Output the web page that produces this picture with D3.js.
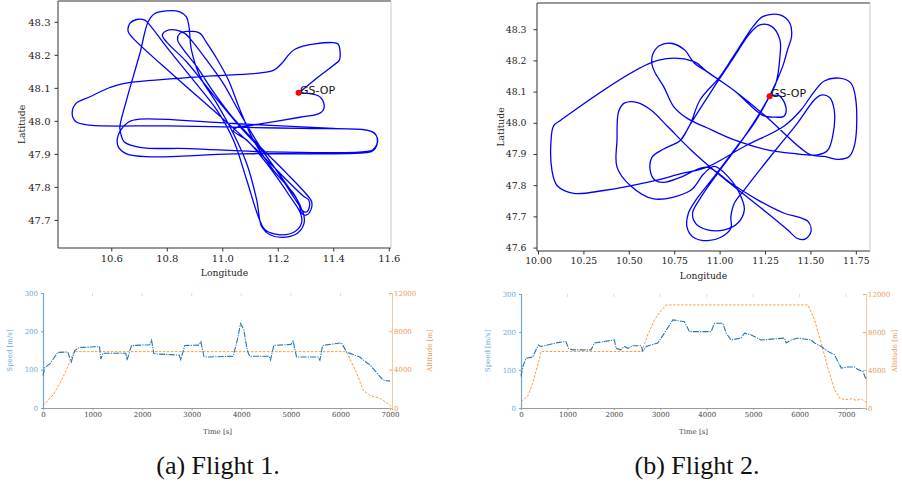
<!DOCTYPE html>
<html>
<head>
<meta charset="utf-8">
<script src="https://cdn.jsdelivr.net/npm/d3@7"></script>
<style>
  body { margin: 0; background: #fff; }
  svg { display: block; }
</style>
</head>
<body>
<svg width="902" height="484"></svg>
<script>
// ground track of flight 1, [longitude, latitude]
const flight1Path = [
  [11.277,48.085],[11.340,48.129],[11.400,48.168],[11.422,48.184],[11.424,48.214],[11.418,48.232],
  [11.400,48.237],[11.262,48.217],[11.214,48.174],[11.184,48.153],[10.920,48.134],[10.643,48.113],
  [10.595,48.101],[10.523,48.073],[10.473,48.053],[10.459,48.023],[10.473,47.997],[10.523,47.987],
  [10.799,47.985],[11.040,47.981],[11.280,47.977],[11.520,47.972],[11.550,47.962],[11.559,47.937],
  [11.544,47.910],[11.520,47.904],[11.040,47.900],[10.739,47.891],[10.655,47.900],[10.625,47.922],
  [10.622,47.947],[10.634,47.972],[10.661,47.996],[10.703,48.005],[11.040,47.992],[11.400,47.977],
  [11.532,47.970],[11.554,47.957],[11.559,47.934],[11.542,47.912],[11.514,47.907],[11.160,47.906],
  [10.883,47.916],[10.703,47.920],[10.646,47.937],[10.634,47.962],[10.631,47.982],[10.655,48.063],
  [10.703,48.204],[10.733,48.300],[10.757,48.325],[10.799,48.333],[10.847,48.330],[10.871,48.315],
  [10.880,48.285],[10.889,48.214],[10.920,48.134],[10.980,48.053],[11.040,47.962],[11.088,47.871],
  [11.124,47.761],[11.142,47.680],[11.172,47.655],[11.214,47.647],[11.268,47.658],[11.294,47.688],
  [11.292,47.720],[11.256,47.771],[11.160,47.892],[11.064,47.982],[10.968,48.078],[10.871,48.179],
  [10.799,48.239],[10.784,48.260],[10.799,48.273],[10.835,48.275],[10.865,48.265],[10.883,48.250],
  [10.944,48.184],[11.004,48.113],[11.064,48.023],[11.136,47.922],[11.220,47.821],[11.274,47.755],
  [11.286,47.720],[11.304,47.715],[11.320,47.732],[11.322,47.755],[11.310,47.771],[11.232,47.841],
  [11.136,47.922],[11.040,48.008],[10.968,48.088],[10.908,48.164],[10.853,48.224],[10.839,48.245],
  [10.847,48.265],[10.883,48.272],[10.920,48.265],[10.941,48.240],[10.980,48.189],[11.022,48.124],
  [11.064,48.033],[11.112,47.942],[11.184,47.851],[11.256,47.781],[11.280,47.745],[11.289,47.728],
  [11.304,47.724],[11.314,47.740],[11.311,47.761],[11.294,47.771],[11.220,47.831],[11.112,47.922],
  [10.980,48.023],[10.823,48.139],[10.679,48.250],[10.661,48.270],[10.667,48.295],[10.691,48.307],
  [10.721,48.305],[10.739,48.290],[10.799,48.224],[10.895,48.124],[10.980,48.033],[11.040,47.942],
  [11.088,47.821],[11.130,47.710],[11.154,47.670],[11.208,47.655],[11.262,47.665],[11.286,47.692],
  [11.282,47.720],[11.244,47.771],[11.160,47.871],[11.088,47.942],[11.040,47.970],[11.052,47.980],
  [11.100,47.986],[11.280,48.011],[11.346,48.021],[11.364,48.033],[11.366,48.053],[11.346,48.076],
  [11.277,48.085]
];

// ground track of flight 2, [longitude, latitude]
const flight2Path = [
  [11.273,48.084],[11.328,48.087],[11.365,48.050],[11.356,48.022],[11.301,48.018],[11.237,48.024],
  [11.081,48.103],[10.930,48.164],[10.857,48.197],[10.659,48.200],[10.127,48.009],[10.086,47.990],
  [10.072,47.945],[10.077,47.847],[10.105,47.799],[10.196,47.774],[10.361,47.783],[10.600,47.809],
  [10.783,47.836],[10.930,47.858],[11.136,47.924],[11.356,47.990],[11.448,48.041],[11.521,48.100],
  [11.576,48.134],[11.659,48.143],[11.723,48.127],[11.750,48.073],[11.745,47.934],[11.714,47.892],
  [11.659,47.883],[11.576,47.892],[11.503,47.897],[11.448,47.918],[11.246,48.025],[11.081,48.103],
  [10.930,48.164],[10.861,48.191],[10.806,48.234],[10.732,48.255],[10.668,48.247],[10.631,48.218],
  [10.628,48.186],[10.644,48.161],[10.692,48.116],[10.747,48.052],[10.820,48.015],[10.930,47.984],
  [11.081,47.945],[11.264,47.913],[11.429,47.900],[11.484,47.897],[11.539,47.897],[11.594,47.911],
  [11.622,47.956],[11.631,48.041],[11.604,48.082],[11.558,48.089],[11.521,48.073],[11.429,47.999],
  [11.338,47.934],[11.228,47.854],[11.136,47.785],[11.081,47.742],[11.062,47.699],[11.062,47.662],
  [11.007,47.633],[10.934,47.622],[10.851,47.635],[10.820,47.667],[10.828,47.710],[10.870,47.753],
  [10.971,47.828],[11.081,47.913],[11.191,47.999],[11.264,48.073],[11.310,48.127],[11.332,48.212],
  [11.332,48.266],[11.286,48.309],[11.222,48.314],[11.167,48.287],[11.081,48.212],[10.971,48.116],
  [10.839,47.996],[10.783,47.943],[10.692,47.916],[10.628,47.890],[10.618,47.847],[10.646,47.815],
  [10.692,47.809],[10.783,47.825],[10.930,47.858],[11.062,47.806],[11.209,47.753],[11.356,47.710],
  [11.439,47.697],[11.488,47.683],[11.503,47.651],[11.470,47.627],[11.429,47.629],[11.374,47.657],
  [11.264,47.710],[11.136,47.769],[10.989,47.838],[10.842,47.913],[10.714,47.988],[10.622,48.041],
  [10.549,48.065],[10.475,48.063],[10.444,48.036],[10.435,47.945],[10.435,47.858],[10.508,47.799],
  [10.637,47.756],[10.839,47.783],[10.912,47.836],[10.971,47.860],[11.062,47.817],[11.117,47.764],
  [11.136,47.721],[11.099,47.678],[11.026,47.657],[10.934,47.657],[10.870,47.676],[10.851,47.710],
  [10.888,47.753],[10.989,47.838],[11.099,47.924],[11.209,48.020],[11.283,48.095],[11.347,48.180],
  [11.374,48.234],[11.396,48.276],[11.387,48.319],[11.332,48.346],[11.240,48.341],[11.185,48.309],
  [11.099,48.234],[11.002,48.148],[10.892,48.073],[10.839,47.996],[10.787,47.945]
];

const groundStation = [11.275, 48.085];
const stationName = "GS-OP";

// [time s, speed m/s] and [time s, altitude m]
const flight1Speed = [
  [0,85],[35,105],[135,115],[300,145],[500,146],[570,120],[640,150],[740,158],[1140,160],[1165,128],
  [1210,143],[1670,143],[1695,125],[1785,163],[2150,165],[2190,177],[2235,142],[2290,141],[2745,138],
  [2780,126],[2860,163],[3140,164],[3185,173],[3245,135],[3300,133],[3835,135],[3915,175],[3985,220],
  [4050,205],[4120,150],[4170,135],[4560,135],[4590,125],[4655,163],[5000,166],[5045,175],[5115,133],
  [5550,133],[5585,125],[5640,163],[6020,170],[6125,146],[6390,133],[6530,118],[6600,112],[6730,92],
  [6860,73],[7000,70]
];
const flight1Alt = [
  [0,250],[100,800],[200,1350],[340,2550],[470,3950],[570,5200],[620,5880],[6120,5880],[6330,3600],
  [6460,1850],[6600,1300],[6800,1000],[6960,450],[7030,100]
];
const flight2Speed = [
  [0,83],[40,109],[108,131],[250,134],[373,166],[430,162],[575,166],[790,172],[970,175],[1020,157],
  [1113,153],[1509,153],[1580,171],[2011,179],[2047,157],[2150,153],[2227,162],[2300,157],[2407,164],
  [2586,164],[2622,149],[2700,162],[2802,166],[2945,171],[3089,197],[3269,232],[3520,227],[3628,201],
  [4095,201],[4167,223],[4346,223],[4418,197],[4526,179],[4741,184],[4813,197],[4957,192],[5172,179],
  [5675,184],[5711,171],[5819,179],[5963,184],[6250,179],[6322,171],[6466,162],[6609,149],[6753,140],
  [6825,122],[6897,105],[7040,108],[7184,108],[7256,101],[7364,96],[7435,74]
];
const flight2Alt = [
  [0,700],[144,1225],[251,2620],[395,5140],[430,5950],[2600,5950],[2730,7700],[2874,9270],[3017,10250],
  [3125,10850],[6180,10850],[6322,9270],[6466,6820],[6609,4200],[6753,1925],[6860,1050],[6968,875],
  [7112,980],[7220,805],[7328,945],[7435,595]
];

const lonTicks1 = [10.6, 10.8, 11.0, 11.2, 11.4, 11.6];
const latTicks1 = [47.7, 47.8, 47.9, 48.0, 48.1, 48.2, 48.3];
const lonTicks2 = [10.00, 10.25, 10.50, 10.75, 11.00, 11.25, 11.50, 11.75];
const latTicks2 = [47.6, 47.7, 47.8, 47.9, 48.0, 48.1, 48.2, 48.3];
const timeTicks = [0, 1000, 2000, 3000, 4000, 5000, 6000, 7000];
const speedTicks = [0, 100, 200, 300];
const altTicks = [0, 4000, 8000, 12000];
const captions = ["(a) Flight 1.", "(b) Flight 2."];

const svg = d3.select("svg");
const serif = "DejaVu Serif";
const speedColor = "#1f77b4", altColor = "#ff7f0e";

function drawMap(box, track, lonDomain, latDomain, lonTicks, latTicks, fmt, fontSize, yPad) {
  const x = d3.scaleLinear().domain(lonDomain).range([box.left, box.right]);
  const y = d3.scaleLinear().domain(latDomain).range([box.bottom, box.top]);
  const g = svg.append("g");

  const spine = (x1, y1, x2, y2, c) => g.append("line")
    .attr("x1", x1).attr("y1", y1).attr("x2", x2).attr("y2", y2)
    .attr("stroke", c).attr("stroke-width", 1);
  spine(box.left, box.top, box.right, box.top, "#333");
  spine(box.left, box.bottom, box.right, box.bottom, "#333");
  spine(box.left, box.top, box.left, box.bottom, "#333");
  spine(box.right, box.top, box.right, box.bottom, "#c8c8c8");

  const ax = g.append("g").attr("transform", `translate(0,${box.bottom})`)
    .call(d3.axisBottom(x).tickValues(lonTicks).tickFormat(d3.format(fmt)).tickSize(3.5).tickPadding(3));
  const ay = g.append("g").attr("transform", `translate(${box.left},0)`)
    .call(d3.axisLeft(y).tickValues(latTicks).tickFormat(d3.format(".1f")).tickSize(3.5).tickPadding(yPad));
  [ax, ay].forEach(a => {
    a.select(".domain").remove();
    a.selectAll("line").attr("stroke", "#333");
    a.selectAll("text").attr("font-family", serif).attr("font-size", fontSize).attr("fill", "#222");
  });

  g.append("text")
    .attr("x", (box.left + box.right) / 2).attr("y", box.bottom + 28)
    .attr("text-anchor", "middle").attr("font-family", serif).attr("font-size", 9.2).attr("fill", "#222")
    .text("Longitude");
  g.append("text")
    .attr("transform", `translate(${box.left - 33},${(box.top + box.bottom) / 2}) rotate(-90)`)
    .attr("text-anchor", "middle").attr("font-family", serif).attr("font-size", 9.2).attr("fill", "#222")
    .text("Latitude");

  const line = d3.line(d => x(d[0]), d => y(d[1])).curve(d3.curveCatmullRom.alpha(0.5));
  g.append("path").datum(track)
    .attr("fill", "none").attr("stroke", "#0000ff").attr("stroke-width", 1.3)
    .attr("stroke-linejoin", "round")
    .attr("d", line);

  g.append("circle").attr("cx", x(groundStation[0])).attr("cy", y(groundStation[1]))
    .attr("r", 3).attr("fill", "#ff0000");
  g.append("text")
    .attr("x", x(groundStation[0]) + 1.5).attr("y", y(groundStation[1]) + 1)
    .attr("font-family", "DejaVu Sans").attr("font-size", 11).attr("fill", "#111")
    .text(stationName);
}

function drawProfile(box, speed, alt, tMax, altLabelX) {
  const x = d3.scaleLinear().domain([0, tMax]).range([box.left, box.right]);
  const yS = d3.scaleLinear().domain([0, 300]).range([box.bottom, box.top]);
  const yA = d3.scaleLinear().domain([0, 12000]).range([box.bottom, box.top]);
  const g = svg.append("g");

  // faint top ticks
  g.selectAll("line.top").data(timeTicks.slice(1)).enter().append("line")
    .attr("x1", d => x(d)).attr("x2", d => x(d))
    .attr("y1", box.top).attr("y2", box.top + 3)
    .attr("stroke", "#d4d4d4").attr("stroke-width", 0.8);

  const ax = g.append("g").attr("transform", `translate(0,${box.bottom})`)
    .call(d3.axisBottom(x).tickValues(timeTicks).tickFormat(d3.format("d")).tickSize(2).tickPadding(2));
  ax.select(".domain").attr("stroke", "#9a9a9a");
  ax.selectAll("line").attr("stroke", "#9a9a9a");
  ax.selectAll("text").attr("fill", "#444");

  const as = g.append("g").attr("transform", `translate(${box.left},0)`)
    .call(d3.axisLeft(yS).tickValues(speedTicks).tickFormat(d3.format("d")).tickSize(2).tickPadding(3));
  as.select(".domain").attr("stroke", "#6fa6d3").attr("stroke-width", 1.2);
  as.selectAll("line").attr("stroke", "#6fa6d3");
  as.selectAll("text").attr("fill", "#6fa6d3");

  const aa = g.append("g").attr("transform", `translate(${box.right},0)`)
    .call(d3.axisRight(yA).tickValues(altTicks).tickFormat(d3.format("d")).tickSize(-3).tickPadding(2));
  aa.select(".domain").attr("stroke", "#f5c6a0");
  aa.selectAll("line").attr("stroke", "#f0a872");
  aa.selectAll("text").attr("fill", "#eb9a5c");

  [ax, as, aa].forEach(a => a.selectAll("text").attr("font-family", serif).attr("font-size", 7));

  g.append("text").attr("x", (box.left + box.right) / 2).attr("y", box.bottom + 26)
    .attr("text-anchor", "middle").attr("font-family", serif).attr("font-size", 7).attr("fill", "#444")
    .text("Time [s]");
  g.append("text")
    .attr("transform", `translate(${box.left - 31},${(box.top + box.bottom) / 2}) rotate(-90)`)
    .attr("text-anchor", "middle").attr("font-family", serif).attr("font-size", 7).attr("fill", "#6fa6d3")
    .text("Speed [m/s]");
  g.append("text")
    .attr("transform", `translate(${altLabelX},${(box.top + box.bottom) / 2}) rotate(-90)`)
    .attr("text-anchor", "middle").attr("font-family", serif).attr("font-size", 7).attr("fill", "#eb9a5c")
    .text("Altitude [m]");

  g.append("path").datum(alt)
    .attr("fill", "none").attr("stroke", altColor).attr("stroke-width", 1).attr("stroke-opacity", 0.8)
    .attr("stroke-dasharray", "2.5,1.5")
    .attr("d", d3.line(d => x(d[0]), d => yA(d[1])));
  g.append("path").datum(speed)
    .attr("fill", "none").attr("stroke", speedColor).attr("stroke-width", 1.1)
    .attr("stroke-dasharray", "6,1.2,1.2,1.2")
    .attr("d", d3.line(d => x(d[0]), d => yS(d[1])));
}

drawMap({left: 58, right: 391, top: 1, bottom: 248}, flight1Path,
  [10.408, 11.608], [47.615, 48.363], lonTicks1, latTicks1, ".1f", 10, 4);
drawMap({left: 537, right: 870, top: 3, bottom: 251}, flight2Path,
  [9.9945, 11.828], [47.589, 48.384], lonTicks2, latTicks2, ".2f", 9.3, 7);

drawProfile({left: 43, right: 392, top: 293, bottom: 408}, flight1Speed, flight1Alt, 7040, 432);
drawProfile({left: 521, right: 866, top: 294, bottom: 408}, flight2Speed, flight2Alt, 7430, 897);

svg.selectAll("text.caption").data(captions).enter().append("text")
  .attr("class", "caption")
  .attr("x", (d, i) => [218, 697][i]).attr("y", 474)
  .attr("text-anchor", "middle").attr("font-family", "Liberation Serif").attr("font-size", 26)
  .attr("fill", "#111")
  .text(d => d);
</script>
</body>
</html>
